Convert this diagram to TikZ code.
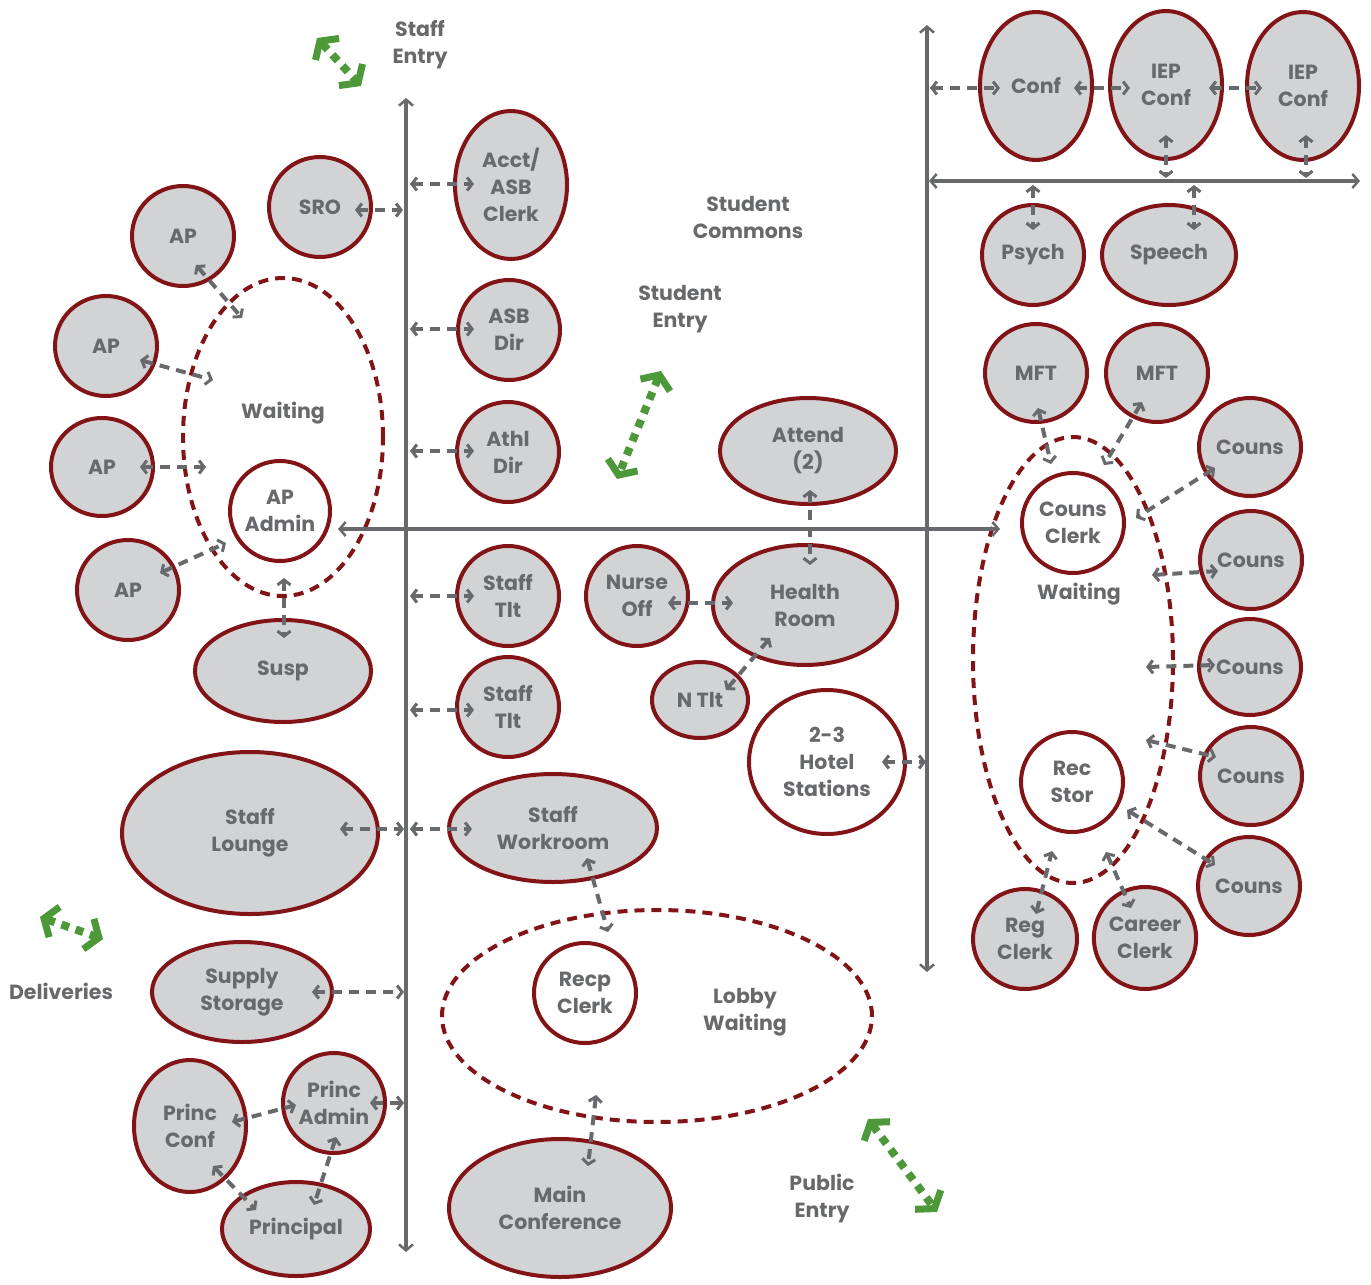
\documentclass[tikz,border=0pt]{standalone}
\usepackage{fontspec}
\setmainfont{Poppins}
\usetikzlibrary{shapes.geometric,arrows.meta,calc}
\definecolor{roomred}{RGB}{130,20,24}
\definecolor{roomfill}{RGB}{209,211,212}
\definecolor{inkgray}{RGB}{104,105,109}
\definecolor{doorgreen}{RGB}{77,152,56}
\begin{document}
\begin{tikzpicture}[x=1pt,y=-1pt,
  txt/.style={text=inkgray, align=center, font=\fontsize{20.5}{27}\selectfont\bfseries},
  room/.style={ellipse, draw=roomred, line width=4pt, fill=roomfill, inner sep=0pt, txt},
  openroom/.style={room, fill=white},
  dims/.style 2 args={minimum width=#1pt, minimum height=#2pt},
  zone/.style={ellipse, draw=roomred, line width=4pt, dash pattern=on 10pt off 7pt, inner sep=0pt},
  lbl/.style={txt},
  bus/.style={draw=inkgray, line width=4pt,
    {Straight Barb[length=6pt,width=14pt,line width=2.5pt]}-{Straight Barb[length=6pt,width=14pt,line width=2.5pt]}},
  conn/.style={draw=inkgray, line width=4pt, dash pattern=on 10pt off 7pt,
    {Straight Barb[length=5pt,width=13pt,line width=3pt]}-{Straight Barb[length=5pt,width=13pt,line width=3pt]}},
  door/.style={draw=doorgreen, line width=8pt, dash pattern=on 8pt off 7pt,
    {Straight Barb[length=11pt,width=32pt,line width=7pt]}-{Straight Barb[length=11pt,width=32pt,line width=7pt]}}
]
\useasboundingbox (0,0) rectangle (1371,1285);

% ---- corridors ----
\coordinate (busLtop) at (406,98);
\coordinate (busLbot) at (406,1252);
\coordinate (busRtop) at (927,25);
\coordinate (busRbot) at (927,972);
\coordinate (busTw) at (929,181);
\coordinate (busTe) at (1360,181);

% ---- waiting zones ----
\node[zone, dims={200}{318}] (waitL) at (283,437) {};
\node[zone, dims={430}{212}] (lobby) at (657,1016) {};
\node[zone, dims={200}{446}] (waitR) at (1073,660) {};

% ---- administration wing ----
\node[room, dims={102}{100}] (sro) at (320,207) {SRO};
\node[room, dims={102}{100}] (ap1) at (183,236) {AP};
\node[room, dims={102}{100}] (ap2) at (106,346) {AP};
\node[room, dims={102}{98}] (ap3) at (102,467) {AP};
\node[room, dims={102}{100}] (ap4) at (128,590) {AP};
\node[lbl] at (283,413) {Waiting};
\node[openroom, dims={100}{100}] (apadmin) at (280,511) {AP\\Admin};
\node[room, dims={176}{102}] (susp) at (283,671) {Susp};
\node[room, dims={256}{162}] (lounge) at (250,833) {Staff\\Lounge};
\node[room, dims={180}{100}] (supply) at (242,992) {Supply\\Storage};
\node[room, dims={112}{132}] (princconf) at (190,1126) {Princ\\Conf};
\node[room, dims={102}{100}] (princadmin) at (334,1103) {Princ\\Admin};
\node[room, dims={148}{94}] (principal) at (296,1229) {Principal};

% ---- middle rooms ----
\node[room, dims={112}{148}] (acct) at (511,185) {Acct/\\ASB\\Clerk};
\node[room, dims={102}{100}] (asbdir) at (509,330) {ASB\\Dir};
\node[room, dims={102}{100}] (athl) at (508,452) {Athl\\Dir};
\node[room, dims={102}{100}] (tlt1) at (508,596) {Staff\\Tlt};
\node[room, dims={102}{100}] (tlt2) at (508,707) {Staff\\Tlt};
\node[room, dims={208}{108}] (workroom) at (553,828) {Staff\\Workroom};
\node[openroom, dims={102}{100}] (recp) at (585,993) {Recp\\Clerk};
\node[lbl] at (745,1012) {Lobby\\Waiting};
\node[room, dims={222}{138}] (mainconf) at (560,1208) {Main\\Conference};
\node[room, dims={102}{100}] (nurse) at (637,596) {Nurse\\Off};
\node[room, dims={184}{120}] (health) at (805,605) {Health\\Room};
\node[room, dims={96}{76}] (ntlt) at (700,700) {N Tlt};
\node[room, dims={176}{106}] (attend) at (808,451) {Attend\\(2)};
\node[openroom, dims={156}{144}] (hotel) at (827,762) {2-3\\Hotel\\Stations};

% ---- student services wing ----
\node[room, dims={112}{148}] (conf) at (1036,86) {Conf};
\node[room, dims={112}{148}] (iep1) at (1166,85) {IEP\\Conf};
\node[room, dims={112}{148}] (iep2) at (1303,86) {IEP\\Conf};
\node[room, dims={102}{100}] (psych) at (1033,255) {Psych};
\node[room, dims={134}{100}] (speech) at (1169,255) {Speech};
\node[room, dims={102}{98}] (mft1) at (1036,373) {MFT};
\node[room, dims={102}{98}] (mft2) at (1157,373) {MFT};
\node[openroom, dims={102}{100}] (counsclerk) at (1073,523) {Couns\\Clerk};
\node[lbl] at (1079,594) {Waiting};
\node[openroom, dims={102}{100}] (recstor) at (1072,782) {Rec\\Stor};
\node[room, dims={102}{98}] (couns1) at (1250,447) {Couns};
\node[room, dims={102}{98}] (couns2) at (1251,560) {Couns};
\node[room, dims={102}{96}] (couns3) at (1250,667) {Couns};
\node[room, dims={102}{98}] (couns4) at (1251,776) {Couns};
\node[room, dims={102}{98}] (couns5) at (1249,886) {Couns};
\node[room, dims={104}{100}] (regclerk) at (1025,939) {Reg\\Clerk};
\node[room, dims={102}{102}] (career) at (1145,938) {Career\\Clerk};

% ---- free labels ----
\node[lbl] (staffentry) at (420,45) {Staff\\Entry};
\node[lbl] (commons) at (748,217) {Student\\Commons};
\node[lbl] (studentry) at (680,309) {Student\\Entry};
\node[lbl] (publicentry) at (822,1198) {Public\\Entry};
\node[lbl] (deliveries) at (61,991) {Deliveries};

% ---- corridor lines ----
\draw[bus] (busLtop) -- (busLbot);
\draw[bus] (busRtop) -- (busRbot);
\draw[bus] (busTw) -- (busTe);
\draw[bus] ($(apadmin)+(58,18)$) -- ($(counsclerk)+(-73,6)$);

% ---- adjacencies ----
\draw[conn] ($(sro)+(35,3)$) -- ($(sro)+(83,3)$);
\draw[conn] ($(acct)+(-101,-1)$) -- ($(acct)+(-37,-1)$);
\draw[conn] ($(asbdir)+(-99,-1)$) -- ($(asbdir)+(-35,-1)$);
\draw[conn] ($(athl)+(-98,-1)$) -- ($(athl)+(-34,-1)$);
\draw[conn] ($(tlt1)+(-98,0)$) -- ($(tlt1)+(-34,0)$);
\draw[conn] ($(tlt2)+(-98,3)$) -- ($(tlt2)+(-34,3)$);
\draw[conn] ($(lounge)+(90,-4)$) -- ($(lounge)+(154,-4)$);
\draw[conn] ($(workroom)+(-143,1)$) -- ($(workroom)+(-81,1)$);
\draw[conn] ($(supply)+(70,0)$) -- ($(supply)+(162,0)$);
\draw[conn] ($(princadmin)+(36,0)$) -- ($(princadmin)+(70,0)$);
\draw[conn] ($(princconf)+(42,-4)$) -- ($(princadmin)+(-38,2)$);
\draw[conn] ($(princconf)+(23,40)$) -- ($(principal)+(-40,-19)$);
\draw[conn] ($(princadmin)+(2,34)$) -- ($(principal)+(18,-24)$);
\draw[conn] ($(apadmin)+(4,67)$) -- ($(susp)+(1,-33)$);
\draw[conn] ($(ap1)+(13,29)$) -- ($(waitL)+(-41,-119)$);
\draw[conn] ($(ap2)+(34,14)$) -- ($(waitL)+(-70,-57)$);
\draw[conn] ($(ap3)+(38,0)$) -- ($(waitL)+(-77,30)$);
\draw[conn] ($(ap4)+(32,-17)$) -- ($(apadmin)+(-54,32)$);
\draw[conn] ($(workroom)+(34,30)$) -- ($(recp)+(23,-61)$);
\draw[conn] ($(lobby)+(-61,79)$) -- ($(mainconf)+(28,-42)$);
\draw[conn] ($(nurse)+(31,7)$) -- ($(health)+(-72,-2)$);
\draw[conn] ($(health)+(-35,33)$) -- ($(ntlt)+(26,-10)$);
\draw[conn] ($(attend)+(2,39)$) -- ($(health)+(5,-40)$);
\draw[conn] ($(hotel)+(55,0)$) -- ($(hotel)+(99,0)$);
\draw[conn] ($(conf)+(-106,2)$) -- ($(conf)+(-36,2)$);
\draw[conn] ($(conf)+(38,2)$) -- ($(iep1)+(-36,3)$);
\draw[conn] ($(iep1)+(43,3)$) -- ($(iep2)+(-41,2)$);
\draw[conn] ($(iep1)+(0,50)$) -- ($(iep1)+(0,93)$);
\draw[conn] ($(iep2)+(3,49)$) -- ($(iep2)+(3,92)$);
\draw[conn] ($(psych)+(0,-70)$) -- ($(psych)+(0,-25)$);
\draw[conn] ($(speech)+(25,-70)$) -- ($(speech)+(25,-25)$);
\draw[conn] ($(mft1)+(2,35)$) -- ($(counsclerk)+(-22,-59)$);
\draw[conn] ($(mft2)+(-15,29)$) -- ($(counsclerk)+(31,-58)$);
\draw[conn] ($(couns1)+(-35,21)$) -- ($(counsclerk)+(63,-5)$);
\draw[conn] ($(waitR)+(79,-85)$) -- ($(couns2)+(-33,11)$);
\draw[conn] ($(waitR)+(73,7)$) -- ($(couns3)+(-35,-2)$);
\draw[conn] ($(waitR)+(73,80)$) -- ($(couns4)+(-35,-19)$);
\draw[conn] ($(recstor)+(55,28)$) -- ($(couns5)+(-34,-21)$);
\draw[conn] ($(regclerk)+(11,-25)$) -- ($(recstor)+(-20,69)$);
\draw[conn] ($(recstor)+(34,70)$) -- ($(career)+(-14,-30)$);

% ---- entries ----
\coordinate (staffA) at (317,38);  \coordinate (staffB) at (361,86);
\coordinate (studA) at (661,371);  \coordinate (studB) at (617,479);
\coordinate (delA) at (40,917);    \coordinate (delB) at (103,939);
\coordinate (pubA) at (868,1119);  \coordinate (pubB) at (937,1212);
\draw[door] (staffA) -- (staffB);
\draw[door] (studA) -- (studB);
\draw[door] (delA) -- (delB);
\draw[door] (pubA) -- (pubB);
\end{tikzpicture}
\end{document}
